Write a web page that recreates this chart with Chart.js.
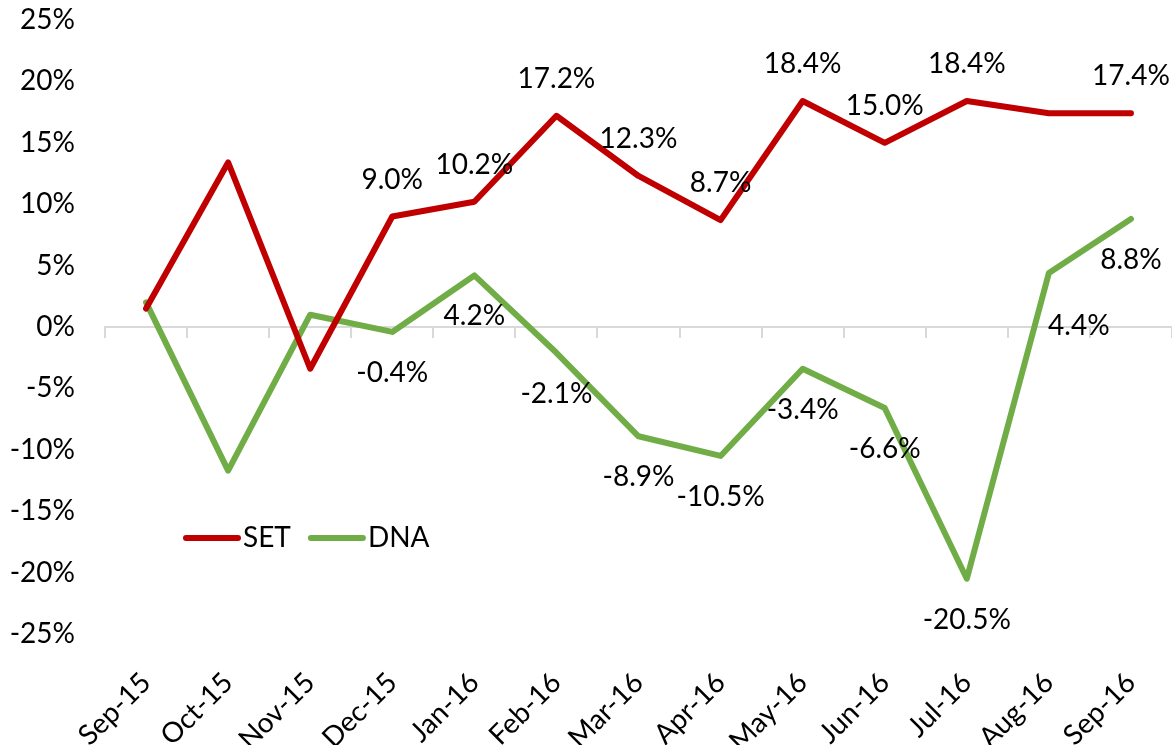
<!DOCTYPE html>
<html>
<head>
<meta charset="utf-8">
<script src="https://cdn.jsdelivr.net/npm/chart.js@4.4.1/dist/chart.umd.min.js"></script>
<style>
  html, body { margin: 0; padding: 0; background: #fff; }
  #wrap { width: 1172px; height: 745px; }
</style>
</head>
<body>
<div id="wrap"><canvas id="chart" width="1172" height="745"></canvas></div>
<script>
// Data
const months = ["Sep-15", "Oct-15", "Nov-15", "Dec-15", "Jan-16", "Feb-16", "Mar-16", "Apr-16", "May-16", "Jun-16", "Jul-16", "Aug-16", "Sep-16"];
const setValues = [1.5, 13.4, -3.4, 9.0, 10.2, 17.2, 12.3, 8.7, 18.4, 15.0, 18.4, 17.4, 17.4];
const dnaValues = [2.0, -11.7, 1.0, -0.4, 4.2, -2.1, -8.9, -10.5, -3.4, -6.6, -20.5, 4.4, 8.8];
const yTicks = [-25, -20, -15, -10, -5, 0, 5, 10, 15, 20, 25];

// which points get a value label (Excel shows them from Dec-15 on, SET skips Aug-16)
const setLabelShown = [false, false, false, true, true, true, true, true, true, true, true, false, true];
const dnaLabelShown = [false, false, false, true, true, true, true, true, true, true, true, true, true];

// Styles
const RED = "#C00000";
const GREEN = "#70AD47";
const AXIS_GREY = "#D9D9D9";
const FONT = { family: "Lato", size: 28 };

// draws the value labels next to the points
const valueLabels = {
  id: "valueLabels",
  afterDatasetsDraw(chart) {
    const ctx = chart.ctx;
    ctx.save();
    ctx.font = `${FONT.size}px ${FONT.family}`;
    ctx.fillStyle = "#000";
    ctx.textAlign = "center";
    ctx.textBaseline = "middle";

    chart.data.datasets.forEach((ds, di) => {
      const meta = chart.getDatasetMeta(di);
      const shown = di === 0 ? setLabelShown : dnaLabelShown;
      meta.data.forEach((pt, i) => {
        if (!shown[i]) return;
        let dx = 0;
        let dy = di === 0 ? -37 : 41;
        // Aug-16 DNA label was nudged in the original
        if (di === 1 && i === 11) { dx = 30; dy = 53; }
        ctx.fillText(ds.data[i].toFixed(1) + "%", pt.x + dx, pt.y + dy);
      });
    });
    ctx.restore();
  }
};

// legend sits inside the plot, lower left
const insideLegend = {
  id: "insideLegend",
  afterDraw(chart) {
    const ctx = chart.ctx;
    const area = chart.chartArea;
    const y = area.top + 518;
    let x = area.left + 81;
    ctx.save();
    ctx.font = `${FONT.size}px ${FONT.family}`;
    ctx.textBaseline = "middle";
    ctx.textAlign = "left";
    ctx.lineCap = "round";
    ctx.lineWidth = 6;
    chart.data.datasets.forEach((ds) => {
      ctx.strokeStyle = ds.borderColor;
      ctx.beginPath();
      ctx.moveTo(x, y);
      ctx.lineTo(x + 52, y);
      ctx.stroke();
      ctx.fillStyle = "#000";
      ctx.fillText(ds.label, x + 57, y);
      x += 57 + ctx.measureText(ds.label).width + 20;
    });
    ctx.restore();
  }
};

const setup = () => {
  const ctx = document.getElementById("chart").getContext("2d");
  new Chart(ctx, {
    type: "line",
    data: {
      labels: months,
      datasets: [
        {
          label: "SET",
          data: setValues,
          borderColor: RED,
          backgroundColor: RED,
          borderWidth: 6,
          pointRadius: 0,
          tension: 0,
          borderJoinStyle: "round",
          borderCapStyle: "round",
          xAxisID: "x"
        },
        {
          label: "DNA",
          data: dnaValues,
          borderColor: GREEN,
          backgroundColor: GREEN,
          borderWidth: 6,
          pointRadius: 0,
          tension: 0,
          borderJoinStyle: "round",
          borderCapStyle: "round",
          xAxisID: "x"
        }
      ]
    },
    options: {
      responsive: false,
      animation: false,
      layout: { padding: { top: 20, right: 0, bottom: 0, left: 0 } },
      plugins: {
        legend: { display: false },
        tooltip: { enabled: false }
      },
      scales: {
        x: {
          type: "category",
          position: "bottom",
          offset: true,
          grid: { display: false, drawTicks: false },
          border: { display: false },
          ticks: {
            font: FONT,
            color: "#000",
            minRotation: 45,
            maxRotation: 45,
            autoSkip: false,
            padding: 32
          },
          afterFit(scale) {
            scale.height = 111;
            scale.paddingLeft = 0;
            scale.paddingRight = 0;
          }
        },
        zeroLine: {
          type: "category",
          axis: "x",
          position: { y: 0 },
          offset: true,
          grid: {
            display: true,
            drawOnChartArea: false,
            drawTicks: true,
            tickLength: 10,
            color: AXIS_GREY,
            lineWidth: 2,
            offset: true
          },
          border: { display: true, color: AXIS_GREY, width: 2 },
          ticks: { display: false },
          afterFit(scale) {
            scale.height = 0;
            scale.paddingLeft = 0;
            scale.paddingRight = 0;
          }
        },
        y: {
          min: -25,
          max: 25,
          afterBuildTicks(scale) {
            scale.ticks = yTicks.map(v => ({ value: v }));
          },
          grid: { display: false, drawTicks: false },
          border: { display: false },
          ticks: {
            font: FONT,
            color: "#000",
            padding: 30,
            callback: (v) => v + "%"
          },
          afterFit(scale) {
            scale.width = 105;
            scale.paddingTop = 0;
            scale.paddingBottom = 0;
          }
        }
      }
    },
    plugins: [valueLabels, insideLegend]
  });
};

window.addEventListener("load", setup);
</script>
</body>
</html>
